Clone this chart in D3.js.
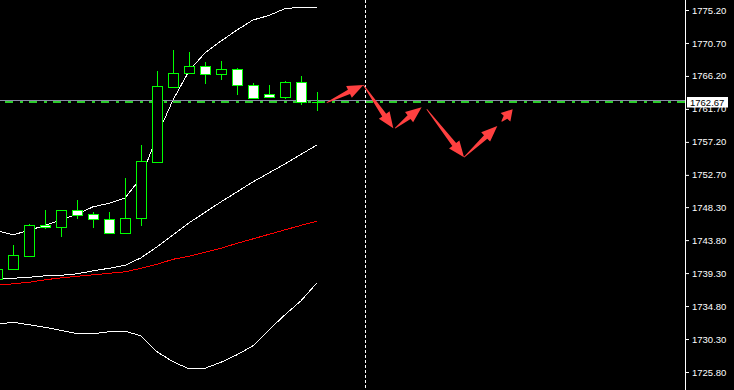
<head>
<meta charset="utf-8">
<style> body { margin: 0; background: #000; } svg { display: block; } </style>
<script src="https://cdn.jsdelivr.net/npm/d3@7"></script>
</head>
<body>
<div id="chart"></div>
<script>

// bar data (index 0 is the half hidden bar at the left edge)
var opens  = [1738.52, 1739.84, 1741.66, 1745.84, 1745.65, 1747.89, 1747.34, 1746.66, 1744.75, 1746.80, 1754.51,
              1764.74, 1766.57, 1767.52, 1766.40, 1767.11, 1764.93, 1763.70, 1763.30, 1765.34, 1762.67];
var highs  = [1740.20, 1743.15, 1746.02, 1747.93, 1747.93, 1749.29, 1747.66, 1747.66, 1752.25, 1756.79, 1766.88,
              1769.75, 1769.43, 1768.07, 1768.25, 1767.29, 1765.25, 1764.97, 1765.48, 1766.20, 1764.02];
var lows   = [1738.30, 1739.84, 1741.52, 1745.34, 1744.29, 1746.70, 1745.51, 1744.61, 1744.70, 1745.79, 1754.50,
              1764.60, 1766.50, 1765.15, 1765.65, 1763.61, 1763.10, 1763.30, 1762.99, 1762.29, 1761.47];
var closes = [1739.88, 1741.75, 1745.84, 1745.57, 1747.89, 1747.29, 1746.66, 1744.75, 1746.80, 1754.57, 1764.80,
              1766.57, 1767.52, 1766.43, 1767.11, 1764.93, 1763.13, 1763.30, 1765.34, 1762.61, 1762.67];

// bollinger bands + slow moving average
var bbUpper = [1745.06, 1744.52, 1745.13, 1745.81, 1746.56, 1747.31, 1748.34, 1748.81, 1749.56, 1752.29, 1758.02,
               1762.93, 1766.88, 1769.34, 1770.97, 1772.47, 1773.84, 1774.45, 1775.40, 1775.57, 1775.57];
var bbMid   = [1738.59, 1738.59, 1738.72, 1738.93, 1739.00, 1739.20, 1739.61, 1739.95, 1740.36, 1741.38, 1742.88,
               1744.52, 1746.15, 1747.59, 1749.02, 1750.38, 1751.75, 1752.97, 1754.20, 1755.50, 1756.79];
var bbLower = [1732.31, 1732.59, 1732.25, 1731.90, 1731.49, 1731.02, 1731.02, 1731.29, 1731.36, 1730.75, 1728.56,
               1727.20, 1726.24, 1726.31, 1727.13, 1728.15, 1729.38, 1731.56, 1733.61, 1735.52, 1737.97];
var maRed   = [1737.63, 1737.84, 1738.04, 1738.38, 1738.65, 1738.86, 1739.06, 1739.27, 1739.47, 1739.95, 1740.50,
               1741.18, 1741.59, 1742.13, 1742.68, 1743.36, 1743.97, 1744.59, 1745.20, 1745.81, 1746.39];

var tickLabels = ["1775.20", "1770.70", "1766.20", "1761.70", "1757.20", "1752.70",
                  "1748.30", "1743.80", "1739.30", "1734.80", "1730.30", "1725.80"];

var bidPrice = 1762.67;
var vLineBar = 23;

// hand drawn forecast arrows: [bar0, price0, bar1, price1]
var arrows = [
    [20.61, 1762.56, 22.90, 1764.97],
    [22.90, 1764.97, 24.77, 1759.07],
    [24.88, 1759.07, 26.54, 1761.93],
    [26.86, 1761.66, 29.19, 1755.11],
    [29.19, 1755.11, 31.27, 1759.38],
    [31.54, 1759.97, 32.23, 1761.66]
];

var W = 734, H = 390;
var axisX = 685;

var svg = d3.select("#chart").append("svg")
    .attr("width", W)
    .attr("height", H)
    .style("background", "#000");

var x = d3.scaleLinear().domain([0, 43]).range([-3, axisX]);
var y = d3.scaleLinear().domain([1725.8, 1775.2]).range([372, 10]);

var plot = svg.append("g");
plot.append("clipPath").attr("id", "clip")
    .append("rect").attr("x", 0).attr("y", 0).attr("width", axisX).attr("height", H);
plot.attr("clip-path", "url(#clip)");

var idx = d3.range(opens.length);

function addLine(vals, col) {
    plot.append("path")
        .datum(idx)
        .attr("fill", "none")
        .attr("stroke", col)
        .attr("stroke-width", 1)
        .attr("shape-rendering", "crispEdges")
        .attr("d", d3.line().x(i => x(i)).y(i => y(vals[i])));
}

addLine(maRed, "#ff0000");
addLine(bbLower, "#ffffff");
addLine(bbMid, "#ffffff");
addLine(bbUpper, "#ffffff");

// bid line (grey) and the green dash-dot level just under it
var py = Math.floor(y(bidPrice)) - 0.5;
plot.append("line")
    .attr("x1", 0).attr("x2", axisX)
    .attr("y1", py).attr("y2", py)
    .attr("stroke", "#8a8aa4").attr("stroke-width", 1)
    .attr("shape-rendering", "crispEdges");
plot.append("line")
    .attr("x1", 0).attr("x2", axisX)
    .attr("y1", py + 1.5).attr("y2", py + 1.5)
    .attr("stroke", "#2ccc2c").attr("stroke-width", 2)
    .attr("shape-rendering", "crispEdges")
    .attr("stroke-dasharray", "8,7,3,6")
    .attr("stroke-dashoffset", 19);

// candles
var candles = plot.append("g");
idx.forEach(function(i) {
    var cx = Math.round(x(i));
    var o = y(opens[i]), c = y(closes[i]);
    candles.append("line")
        .attr("x1", cx + 0.5).attr("x2", cx + 0.5)
        .attr("y1", Math.round(y(highs[i]))).attr("y2", Math.round(y(lows[i])))
        .attr("stroke", "#00ff00").attr("stroke-width", 1);
    if (Math.abs(o - c) < 0.5) {
        var yy = Math.round(o) + 0.5;
        candles.append("line")
            .attr("x1", cx - 5).attr("x2", cx + 6)
            .attr("y1", yy).attr("y2", yy)
            .attr("stroke", "#00ff00").attr("stroke-width", 1);
        return;
    }
    var top = Math.round(Math.min(o, c)), bot = Math.round(Math.max(o, c));
    candles.append("rect")
        .attr("x", cx - 4.5).attr("y", top + 0.5)
        .attr("width", 10).attr("height", bot - top)
        .attr("fill", closes[i] < opens[i] ? "#ffffff" : "#000000")
        .attr("stroke", "#00ff00").attr("stroke-width", 1);
});

// vertical dashed line
var vx = Math.round(x(vLineBar)) + 0.5;
plot.append("line")
    .attr("x1", vx).attr("x2", vx)
    .attr("y1", 0).attr("y2", H)
    .attr("stroke", "#ffffff").attr("stroke-width", 1)
    .attr("stroke-dasharray", "3,2");

// arrows
function arrowPath(a) {
    var x0 = x(a[0]), y0 = y(a[1]), x1 = x(a[2]), y1 = y(a[3]);
    var dx = x1 - x0, dy = y1 - y0, L = Math.sqrt(dx * dx + dy * dy);
    var ux = dx / L, uy = dy / L, nx = -uy, ny = ux;
    var hl = Math.min(16, L * 0.65), hw = 6.5, sw = 2.4, tw = 0.4;
    var bx = x1 - ux * hl, by = y1 - uy * hl;
    var pts = [
        [x0 + nx * tw, y0 + ny * tw],
        [bx + nx * sw, by + ny * sw],
        [bx + nx * hw, by + ny * hw],
        [x1, y1],
        [bx - nx * hw, by - ny * hw],
        [bx - nx * sw, by - ny * sw],
        [x0 - nx * tw, y0 - ny * tw]
    ];
    return "M" + pts.map(p => p[0] + "," + p[1]).join("L") + "Z";
}
plot.append("g").selectAll("path")
    .data(arrows)
    .join("path")
    .attr("d", arrowPath)
    .attr("fill", "#ff4040");

// right price scale
svg.append("line")
    .attr("x1", axisX + 0.5).attr("x2", axisX + 0.5)
    .attr("y1", 0).attr("y2", H)
    .attr("stroke", "#ffffff").attr("stroke-width", 1);

var ax = svg.append("g")
    .attr("transform", "translate(" + (axisX + 1) + ",0)")
    .call(d3.axisRight(y).tickValues(tickLabels.map(Number)).tickSize(3).tickPadding(3)
        .tickFormat(d => d.toFixed(2)));
ax.select(".domain").remove();
ax.selectAll("line").attr("stroke", "#ffffff");
ax.selectAll("text")
    .attr("fill", "#ffffff")
    .style("font-family", "'Liberation Sans', Arial, sans-serif")
    .style("font-size", "9.5px");

// current price label (covers the 1761.70 tick like the terminal does)
var lbl = svg.append("g").attr("transform", "translate(687," + (py - 3.5) + ")");
lbl.append("rect").attr("x", 0).attr("y", 0).attr("width", 41).attr("height", 10.5).attr("fill", "#ffffff");
lbl.append("text")
    .attr("x", 3).attr("y", 8.8)
    .attr("fill", "#000000")
    .style("font-family", "'Liberation Sans', Arial, sans-serif")
    .style("font-size", "9.5px")
    .text(bidPrice.toFixed(2));

</script>
</body>
